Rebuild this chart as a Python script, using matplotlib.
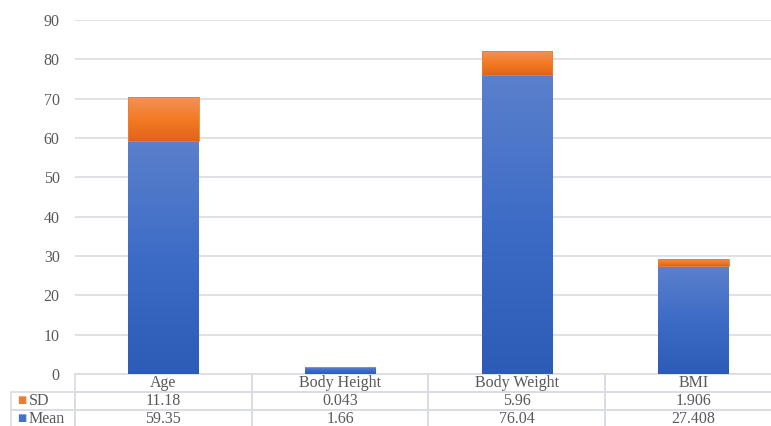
import matplotlib.pyplot as plt
import numpy as np
from matplotlib.colors import LinearSegmentedColormap

categories = ['Age', 'Body Height', 'Body Weight', 'BMI']
mean_vals = [59.35, 1.66, 76.04, 27.408]
sd_vals = [11.18, 0.043, 5.96, 1.906]
mean_labels = ['59.35', '1.66', '76.04', '27.408']
sd_labels = ['11.18', '0.043', '5.96', '1.906']

plt.rcParams['font.family'] = ['Liberation Serif', 'DejaVu Serif']
txt = '#595959'
grid_c = '#d9dce3'
fs = 11.5

blue_cmap = LinearSegmentedColormap.from_list('b', ['#2d5cb7', '#3d6cc6', '#5b80cc'])
orange_cmap = LinearSegmentedColormap.from_list('o', ['#df641a', '#f47b22', '#f0925e'])

fig = plt.figure(figsize=(7.71, 4.26), dpi=100)
ax = fig.add_axes([75 / 771, 52 / 426, 707 / 771, 354 / 426])

x = np.arange(len(categories))
b1 = ax.bar(x, mean_vals, width=0.4, color='none', edgecolor='none')
b2 = ax.bar(x, sd_vals, width=0.4, bottom=mean_vals, color='none', edgecolor='none')

grad = np.linspace(0, 1, 256).reshape(-1, 1)
for bars, cmap in [(b1, blue_cmap), (b2, orange_cmap)]:
    for p in bars:
        x0, y0 = p.get_x(), p.get_y()
        w, h = p.get_width(), p.get_height()
        im = ax.imshow(grad, cmap=cmap, aspect='auto', origin='lower',
                       extent=[x0, x0 + w, y0, y0 + h], zorder=2)
        im.set_clip_path(p)
# thin top edge on the SD segments so tiny values still show
ax.bar(x, sd_vals, width=0.4, bottom=mean_vals, color='none',
       edgecolor='#ed7d31', linewidth=0.6, zorder=3)

ax.set_xlim(-0.5, len(categories) - 0.5)
ax.set_ylim(0, 90)
ax.set_yticks(range(0, 91, 10))
ax.set_xticks([])
ax.yaxis.grid(True, color=grid_c, linewidth=1.2)
ax.set_axisbelow(True)
for s in ax.spines.values():
    s.set_visible(False)
ax.tick_params(axis='y', length=0, pad=11, labelsize=fs, labelcolor=txt)

cell_text = [[''] + sd_labels, [''] + mean_labels]
tbl = ax.table(cellText=cell_text, colLabels=[''] + categories,
               cellLoc='center', bbox=[-64 / 707, -54 / 354, 771 / 707, 54 / 354],
               colWidths=[64] + [177] * 4)
tbl.auto_set_font_size(False)
for (r, c), cell in tbl.get_celld().items():
    cell.set_edgecolor(grid_c)
    cell.set_linewidth(1.2)
    cell.set_facecolor('none')
    cell.get_text().set_fontsize(fs)
    cell.get_text().set_color(txt)
    if r == 0 and c == 0:
        cell.visible_edges = ''

# legend keys in the row label cells
for i, (lab, col) in enumerate([('SD', '#ed7d31'), ('Mean', '#4472c4')]):
    yy = (-18 * (i + 1) - 9) / 354
    ax.text(-58 / 707, yy + 1 / 354, '\u25a0', color=col, fontsize=7, va='center', ha='left',
            transform=ax.transAxes, family=['DejaVu Sans'])
    ax.text(-46 / 707, yy, lab, color=txt, fontsize=fs, va='center', ha='left',
            transform=ax.transAxes)

fig.savefig('out.png', dpi=100)
